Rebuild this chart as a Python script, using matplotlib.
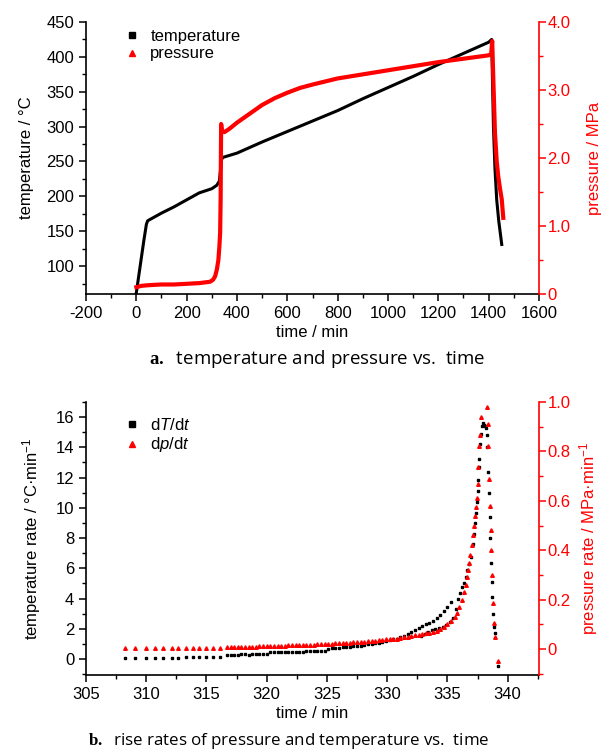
import matplotlib
matplotlib.use('Agg')
import matplotlib.pyplot as plt
from matplotlib.lines import Line2D
from matplotlib.ticker import MultipleLocator, FuncFormatter

plt.rcParams['font.family'] = ['Liberation Sans', 'DejaVu Sans']
plt.rcParams['axes.unicode_minus'] = False
plt.rcParams['mathtext.fontset'] = 'custom'
plt.rcParams['mathtext.rm'] = 'Liberation Sans'
plt.rcParams['mathtext.it'] = 'Liberation Sans:italic'
plt.rcParams['mathtext.bf'] = 'Liberation Serif:bold'
fontsize = 12

# ---- panel a: temperature / pressure vs time ----
temp_time = [0, 10, 20, 30, 40, 45, 60, 100, 150, 200, 250, 300, 320, 330, 335, 338, 345,
             400, 500, 600, 700, 800, 900, 1000, 1100, 1200, 1300, 1400, 1412,
             1415, 1419, 1425, 1432, 1440, 1446, 1452]
temp_val = [62, 87, 112, 137, 160, 165, 168, 176, 185, 195, 205, 211, 216, 222, 240, 253, 256,
            262, 278, 293, 308, 323, 340, 356, 372, 389, 405, 421, 425,
            370, 300, 240, 195, 165, 148, 131]

pres_time = [0, 20, 50, 100, 150, 200, 250, 293, 305, 313, 320, 326, 330, 333, 335, 336, 337,
             340, 350, 370, 400, 450, 500, 550, 600, 650, 700, 800, 900, 1000, 1100, 1200,
             1300, 1400, 1410, 1414, 1419, 1425, 1432, 1438, 1445, 1452, 1458]
pres_val = [0.10, 0.12, 0.13, 0.14, 0.14, 0.15, 0.16, 0.18, 0.21, 0.26, 0.36, 0.50, 0.70, 0.90,
            1.40, 2.00, 2.50, 2.40, 2.38, 2.43, 2.52, 2.65, 2.78, 2.88, 2.96, 3.03, 3.08, 3.17,
            3.23, 3.29, 3.35, 3.41, 3.46, 3.51, 3.53, 3.72, 3.10, 2.37, 1.95, 1.73, 1.55, 1.39, 1.12]

# ---- panel b: rise rates ----
sparse_time = [308.2, 309.05, 310.0, 310.7, 311.4, 312.1, 312.6, 313.3, 313.9, 314.4, 315.0, 315.5, 316.1]
dense_time = [316.7, 317.0, 317.3, 317.6, 317.9, 318.2, 318.5, 318.8, 319.1, 319.4,
              319.7, 320.0, 320.3, 320.6, 320.9, 321.2, 321.5, 321.8, 322.1, 322.4,
              322.7, 323.0, 323.3, 323.6, 323.9, 324.2, 324.5, 324.8, 325.1, 325.4,
              325.7, 326.0, 326.3, 326.6, 326.9, 327.2, 327.5, 327.8, 328.1, 328.4,
              328.7, 329.0, 329.3, 329.6, 329.9, 330.2, 330.5, 330.8, 331.1, 331.4,
              331.7, 332.0, 332.3, 332.6, 332.9, 333.2, 333.5, 333.8, 334.1, 334.4,
              334.7, 335.0, 335.3]

dTdt_sparse = [0.08, 0.08, 0.09, 0.09, 0.10, 0.10, 0.10, 0.11, 0.11, 0.12, 0.12, 0.13, 0.13]
dTdt_dense = [0.30, 0.30, 0.29, 0.30, 0.31, 0.31, 0.30, 0.31, 0.32, 0.32, 0.33, 0.33,
              0.47, 0.46, 0.47, 0.47, 0.48, 0.48, 0.49, 0.49, 0.50, 0.50, 0.51, 0.52, 0.52, 0.53, 0.54, 0.55,
              0.70, 0.71, 0.73, 0.75, 0.77, 0.79, 0.81, 0.84, 0.86, 0.89, 0.93, 0.97, 1.01, 1.05, 1.09,
              1.14, 1.19, 1.24, 1.30, 1.36, 1.43, 1.55, 1.68, 1.80, 1.92, 2.05, 2.18, 2.30, 2.42, 2.55,
              2.75, 2.95, 3.15, 3.45, 3.75]
dTdt_peak_time = [332.8, 333.1, 333.4, 333.7, 334.0, 334.3, 334.6, 334.9, 335.2, 335.5,
                  335.7, 335.9, 336.05, 336.2, 336.35, 336.5, 336.65, 336.8, 336.95, 337.1,
                  337.2, 337.3, 337.36, 337.44, 337.52, 337.55, 337.6, 337.66, 337.72, 337.8,
                  337.88, 337.95, 338.03, 338.1, 338.18, 338.25, 338.32, 338.38, 338.44, 338.5,
                  338.56, 338.62, 338.68, 338.72, 338.77, 338.85, 338.91, 339.2]
dTdt_peak = [1.55, 1.65, 1.78, 1.90, 2.00, 2.08, 2.15, 2.28, 2.45, 2.70,
             3.30, 3.95, 4.40, 4.75, 5.00, 5.40, 5.90, 6.30, 6.75, 7.60,
             8.30, 9.00, 9.65, 10.40, 11.10, 11.85, 12.70, 13.20, 14.20, 14.90,
             15.40, 15.60, 15.50, 15.40, 15.30, 14.80, 14.00, 12.40, 11.00, 9.40,
             8.00, 6.35, 5.10, 4.10, 3.00, 2.10, 1.70, -0.46]

dpdt_sparse = [0.003, 0.003, 0.003, 0.003, 0.004, 0.004, 0.004, 0.004, 0.004, 0.005, 0.005, 0.005, 0.005]
dpdt_dense = [0.008, 0.008, 0.009, 0.009, 0.009, 0.009, 0.010, 0.010, 0.010, 0.011,
              0.011, 0.012, 0.012, 0.013, 0.013, 0.014, 0.014, 0.015, 0.015, 0.016,
              0.016, 0.017, 0.017, 0.018, 0.018, 0.019, 0.020, 0.020, 0.021, 0.022,
              0.023, 0.023, 0.024, 0.025, 0.026, 0.027, 0.028, 0.029, 0.030, 0.031,
              0.033, 0.034, 0.036, 0.038, 0.039, 0.040, 0.041, 0.042, 0.044, 0.047,
              0.050, 0.052, 0.055, 0.057, 0.060, 0.063, 0.066, 0.070, 0.075, 0.082,
              0.090, 0.100, 0.112]
dpdt_peak_time = [335.6, 335.8, 336.0, 336.2, 336.35, 336.5, 336.6, 336.7, 336.8, 336.9,
                  337.0, 337.1, 337.2, 337.3, 337.38, 337.44, 337.5, 337.55, 337.64, 337.7,
                  337.75, 338.25, 338.36, 338.4, 338.47, 338.52, 338.58, 338.64, 338.72, 338.8,
                  338.89, 338.94, 339.2]
dpdt_peak = [0.13, 0.145, 0.17, 0.20, 0.23, 0.26, 0.29, 0.32, 0.35, 0.38,
             0.42, 0.46, 0.50, 0.54, 0.575, 0.61, 0.67, 0.735, 0.82, 0.867,
             0.94, 0.98, 0.91, 0.82, 0.69, 0.58, 0.48, 0.40, 0.30, 0.185,
             0.104, 0.047, -0.05]


def one_dec(v, pos):
    return '0' if abs(v) < 1e-9 else f'{v:.1f}'


def style_pair(ax, axr):
    ax.spines['top'].set_visible(False)
    ax.spines['right'].set_visible(False)
    for s in ['top', 'left', 'bottom']:
        axr.spines[s].set_visible(False)
    axr.spines['right'].set_color('red')
    axr.spines['right'].set_linewidth(1.2)
    ax.spines['left'].set_linewidth(1.2)
    ax.spines['bottom'].set_linewidth(1.2)
    ax.tick_params(which='major', direction='out', length=5, width=1.1, labelsize=fontsize)
    ax.tick_params(which='minor', direction='out', length=3, width=1.0)
    axr.tick_params(which='major', direction='out', length=5, width=1.1, labelsize=fontsize,
                    colors='red', pad=1)
    axr.tick_params(which='minor', direction='out', length=3, width=1.0, colors='red')


fig = plt.figure(figsize=(6.05, 7.53), dpi=100)

# panel a
ax1 = fig.add_axes([86/605, 1-294/753, 453/605, 272/753])
ax1r = ax1.twinx()
ax1.plot(temp_time, temp_val, color='black', lw=2.2)
ax1r.plot(pres_time, pres_val, color='red', lw=3)
ax1.set_xlim(-200, 1600)
ax1.set_ylim(60, 450)
ax1r.set_ylim(0, 4.0)
ax1.xaxis.set_major_locator(MultipleLocator(200))
ax1.xaxis.set_minor_locator(MultipleLocator(100))
ax1.yaxis.set_major_locator(MultipleLocator(50))
ax1.yaxis.set_minor_locator(MultipleLocator(25))
ax1r.yaxis.set_major_locator(MultipleLocator(1.0))
ax1r.yaxis.set_minor_locator(MultipleLocator(0.5))
ax1r.yaxis.set_major_formatter(FuncFormatter(one_dec))
style_pair(ax1, ax1r)
ax1.set_xlabel('time / min', fontsize=fontsize, labelpad=3)
ax1.set_ylabel('temperature / °C', fontsize=fontsize, labelpad=9)
ax1r.set_ylabel('pressure / MPa', fontsize=fontsize, color='red', labelpad=12)
handles_a = [Line2D([], [], ls='none', marker='s', ms=4, color='black'),
             Line2D([], [], ls='none', marker='^', ms=4.5, color='red')]
ax1.legend(handles_a, ['temperature', 'pressure'], loc='upper left', bbox_to_anchor=(0.05, 1.03),
           frameon=False, fontsize=fontsize, handlelength=1.0, handletextpad=0.6, labelspacing=0.15)

# panel b
ax2 = fig.add_axes([86/605, 1-675/753, 453/605, 273/753])
ax2r = ax2.twinx()
ax2.plot(sparse_time, dTdt_sparse, ls='none', marker='s', ms=1.7, color='black')
ax2.plot(dense_time, dTdt_dense, ls='none', marker='s', ms=1.7, color='black')
ax2.plot(dTdt_peak_time, dTdt_peak, ls='none', marker='s', ms=1.7, color='black')
ax2r.plot(sparse_time, dpdt_sparse, ls='none', marker='^', ms=2.6, color='red')
ax2r.plot(dense_time, dpdt_dense, ls='none', marker='^', ms=2.6, color='red')
ax2r.plot(dpdt_peak_time, dpdt_peak, ls='none', marker='^', ms=2.6, color='red')
ax2.set_xlim(305, 342.6)
ax2.set_ylim(-1.05, 17)
ax2r.set_ylim(-0.105, 1.0)
ax2.xaxis.set_major_locator(MultipleLocator(5))
ax2.xaxis.set_minor_locator(MultipleLocator(2.5))
ax2.yaxis.set_major_locator(MultipleLocator(2))
ax2.yaxis.set_minor_locator(MultipleLocator(1))
ax2r.yaxis.set_major_locator(MultipleLocator(0.2))
ax2r.yaxis.set_minor_locator(MultipleLocator(0.1))
ax2r.yaxis.set_major_formatter(FuncFormatter(one_dec))
style_pair(ax2, ax2r)
ax2.set_xlabel('time / min', fontsize=fontsize, labelpad=3)
ax2.set_ylabel('temperature rate / °C·min$^{-1}$', fontsize=fontsize, labelpad=9)
ax2r.set_ylabel('pressure rate / MPa·min$^{-1}$', fontsize=fontsize, color='red', labelpad=5)
handles_b = [Line2D([], [], ls='none', marker='s', ms=4, color='black'),
             Line2D([], [], ls='none', marker='^', ms=4.5, color='red')]
ax2.legend(handles_b, ['d$T$/d$t$', 'd$p$/d$t$'], loc='upper left', bbox_to_anchor=(0.05, 1.0),
           frameon=False, fontsize=fontsize, handlelength=1.0, handletextpad=0.6, labelspacing=0.15)

# captions
fig.text(0.524, 1-359/753, r'$\mathbf{a.}$  temperature and pressure vs.  time',
         ha='center', va='center', fontsize=13.5, family=['Open Sans', 'DejaVu Sans'])
fig.text(0.478, 1-741/753, r'$\mathbf{b.}$  rise rates of pressure and temperature vs.  time',
         ha='center', va='center', fontsize=12.2, family=['Open Sans', 'DejaVu Sans'])

fig.savefig('out.png', dpi=100)
